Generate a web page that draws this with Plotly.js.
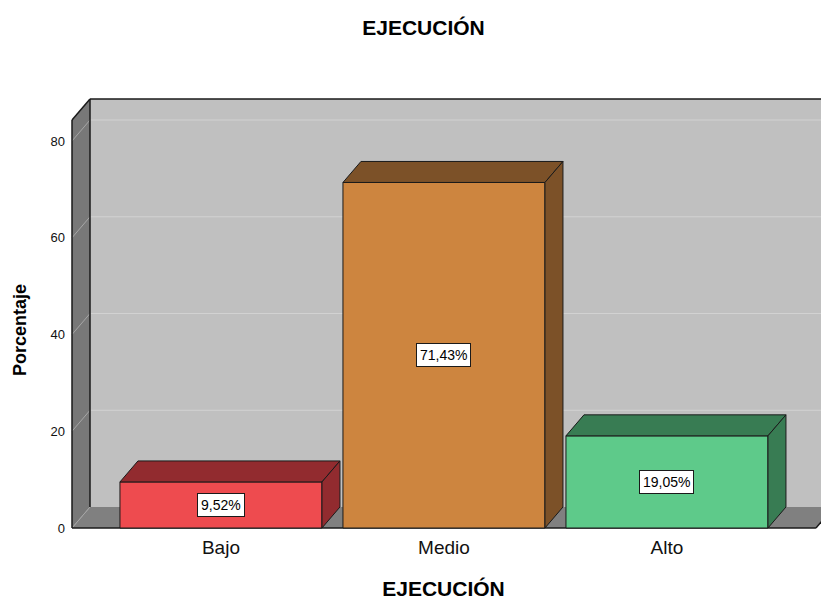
<!DOCTYPE html>
<html>
<head>
<meta charset="utf-8">
<script src="https://cdn.plot.ly/plotly-3.0.1.min.js"></script>
<style>html,body{margin:0;padding:0;overflow:hidden;background:#fff}</style>
</head>
<body>
<div id="chart" style="width:821px;height:600px"></div>
<script>
// ---- data ----
const categories = ['Bajo', 'Medio', 'Alto'];
const values = [9.52, 71.43, 19.05];
const valueLabels = ['9,52%', '71,43%', '19,05%'];
const yTicks = [0, 20, 40, 60, 80];
const chartTitle = 'EJECUCIÓN';
const xTitle = 'EJECUCIÓN';
const yTitle = 'Porcentaje';

// ---- styles ----
const frontColors = ['#EE4B4F', '#CD853F', '#5ECA8A'];
const darkColors = ['#922B2F', '#7C5128', '#387C53'];
const FONT = 'Liberation Sans, Arial, sans-serif';

// ---- geometry (pixels -> data) ----
const W = 821, H = 600;
const M = {l: 66, r: 0, t: 95, b: 68};
const plotW = W - M.l - M.r, plotH = H - M.t - M.b;
const pxPerX = 223, pxPerY = 4.8375;      // scale of the front plane
const frontLeftPx = 72, zeroPx = 528;     // front-left edge and y=0 line
const depthPx = {x: 18, y: 21};           // 3D depth offset
const backTopPx = 99;

const xStart = -0.668 - (frontLeftPx - M.l) / pxPerX;
const xRange = [xStart, xStart + plotW / pxPerX];
const yStart = -((M.t + plotH) - zeroPx) / pxPerY;
const yRange = [yStart, yStart + plotH / pxPerY];

const X0 = -0.668, XR = 2.668;
const DX = depthPx.x / pxPerX, DY = depthPx.y / pxPerY;
const YMAX = (zeroPx - backTopPx) / pxPerY;
const YTOP = YMAX - DY;
const XEND = xRange[1] + 1;
const BARW = 202 / pxPerX;

const shapes = [];
const addPath = (d, fill, line) => shapes.push({type: 'path', path: d, xref: 'x', yref: 'y', layer: 'below',
  fillcolor: fill || 'rgba(0,0,0,0)', line: line || {width: 0}});
const addLine = (x0, y0, x1, y1, color, width) => shapes.push({type: 'line', xref: 'x', yref: 'y', layer: 'below',
  x0, y0, x1, y1, line: {color, width: width || 1}});

// back wall
addPath(`M${X0 + DX},${DY} L${XEND},${DY} L${XEND},${YMAX} L${X0 + DX},${YMAX} Z`, '#C0C0C0');
// grid lines on back wall
yTicks.filter(v => v > 0).forEach(v => addLine(X0 + DX, v + DY, XEND, v + DY, '#D2D2D2', 1));
// left wall
addPath(`M${X0},0 L${X0 + DX},${DY} L${X0 + DX},${YMAX} L${X0},${YTOP} Z`, '#787878');
// floor
addPath(`M${X0},0 L${XR},0 L${XR + DX},${DY} L${X0 + DX},${DY} Z`, '#808080');
// grid diagonals on the left wall
yTicks.forEach(v => addLine(X0, v, X0 + DX, v + DY, '#A6A6A6', 1));
// black edges
addLine(X0 + DX, DY, X0 + DX, YMAX, '#1a1a1a', 1.5);
addLine(X0 + DX, YMAX, XEND, YMAX, '#1a1a1a', 1.5);
addLine(X0, 0, X0, YTOP, '#1a1a1a', 1.5);
addLine(X0, YTOP, X0 + DX, YMAX, '#1a1a1a', 1.5);
addLine(X0, 0, XR, 0, '#1a1a1a', 1.5);
addLine(XR, 0, XR + DX, DY, '#1a1a1a', 1.5);

const xIdx = categories.map((c, i) => i);

const traces = [{
  type: 'bar', x: xIdx, y: values, width: BARW,
  marker: {color: frontColors, line: {color: '#1a1a1a', width: 1}},
  hoverinfo: 'skip', showlegend: false
}];
// top & side faces of each bar
values.forEach((v, i) => {
  const x0 = i - BARW / 2, x1 = i + BARW / 2;
  traces.push({type: 'scatter', mode: 'lines', fill: 'toself', fillcolor: darkColors[i],
    x: [x0, x1, x1 + DX, x0 + DX, x0], y: [v, v, v + DY, v + DY, v],
    line: {color: '#1a1a1a', width: 1}, hoverinfo: 'skip', showlegend: false});
  traces.push({type: 'scatter', mode: 'lines', fill: 'toself', fillcolor: darkColors[i],
    x: [x1, x1 + DX, x1 + DX, x1, x1], y: [0, DY, v + DY, v, 0],
    line: {color: '#1a1a1a', width: 1}, hoverinfo: 'skip', showlegend: false});
});

const annotations = values.map((v, i) => ({
  x: i, y: v / 2, xref: 'x', yref: 'y', text: valueLabels[i], showarrow: false,
  font: {family: FONT, size: 14, color: '#000'}, bgcolor: '#fff',
  bordercolor: '#1a1a1a', borderwidth: 1, borderpad: 3
}));
annotations.push({
  text: yTitle, textangle: -90, showarrow: false, xref: 'paper', yref: 'paper',
  x: (20 - M.l) / plotW, y: (M.t + plotH - 330) / plotH, xanchor: 'center', yanchor: 'middle',
  font: {family: FONT, size: 18, color: '#000', weight: 'bold'}
});

const layout = {
  width: W, height: H, margin: M,
  paper_bgcolor: '#fff', plot_bgcolor: 'rgba(0,0,0,0)',
  title: {text: chartTitle, xref: 'container', yref: 'container', x: 423.5 / W, y: 1 - 28 / H,
    xanchor: 'center', yanchor: 'middle', font: {family: FONT, size: 21, color: '#000', weight: 'bold'}},
  xaxis: {range: xRange, tickvals: xIdx, ticktext: categories, showgrid: false, zeroline: false,
    showline: false, ticks: '', ticklabelstandoff: 2, tickfont: {family: FONT, size: 19, color: '#111'}, fixedrange: true,
    title: {text: xTitle, standoff: 28, font: {family: FONT, size: 21, color: '#000', weight: 'bold'}}},
  yaxis: {range: yRange, tickvals: yTicks, showgrid: false, zeroline: false, showline: false,
    ticks: '', ticklabelstandoff: 0, tickfont: {family: FONT, size: 13, color: '#111'}, fixedrange: true},
  shapes, annotations, showlegend: false, bargap: 0
};

Plotly.newPlot('chart', traces, layout, {displayModeBar: false, staticPlot: true});
</script>
</body>
</html>
